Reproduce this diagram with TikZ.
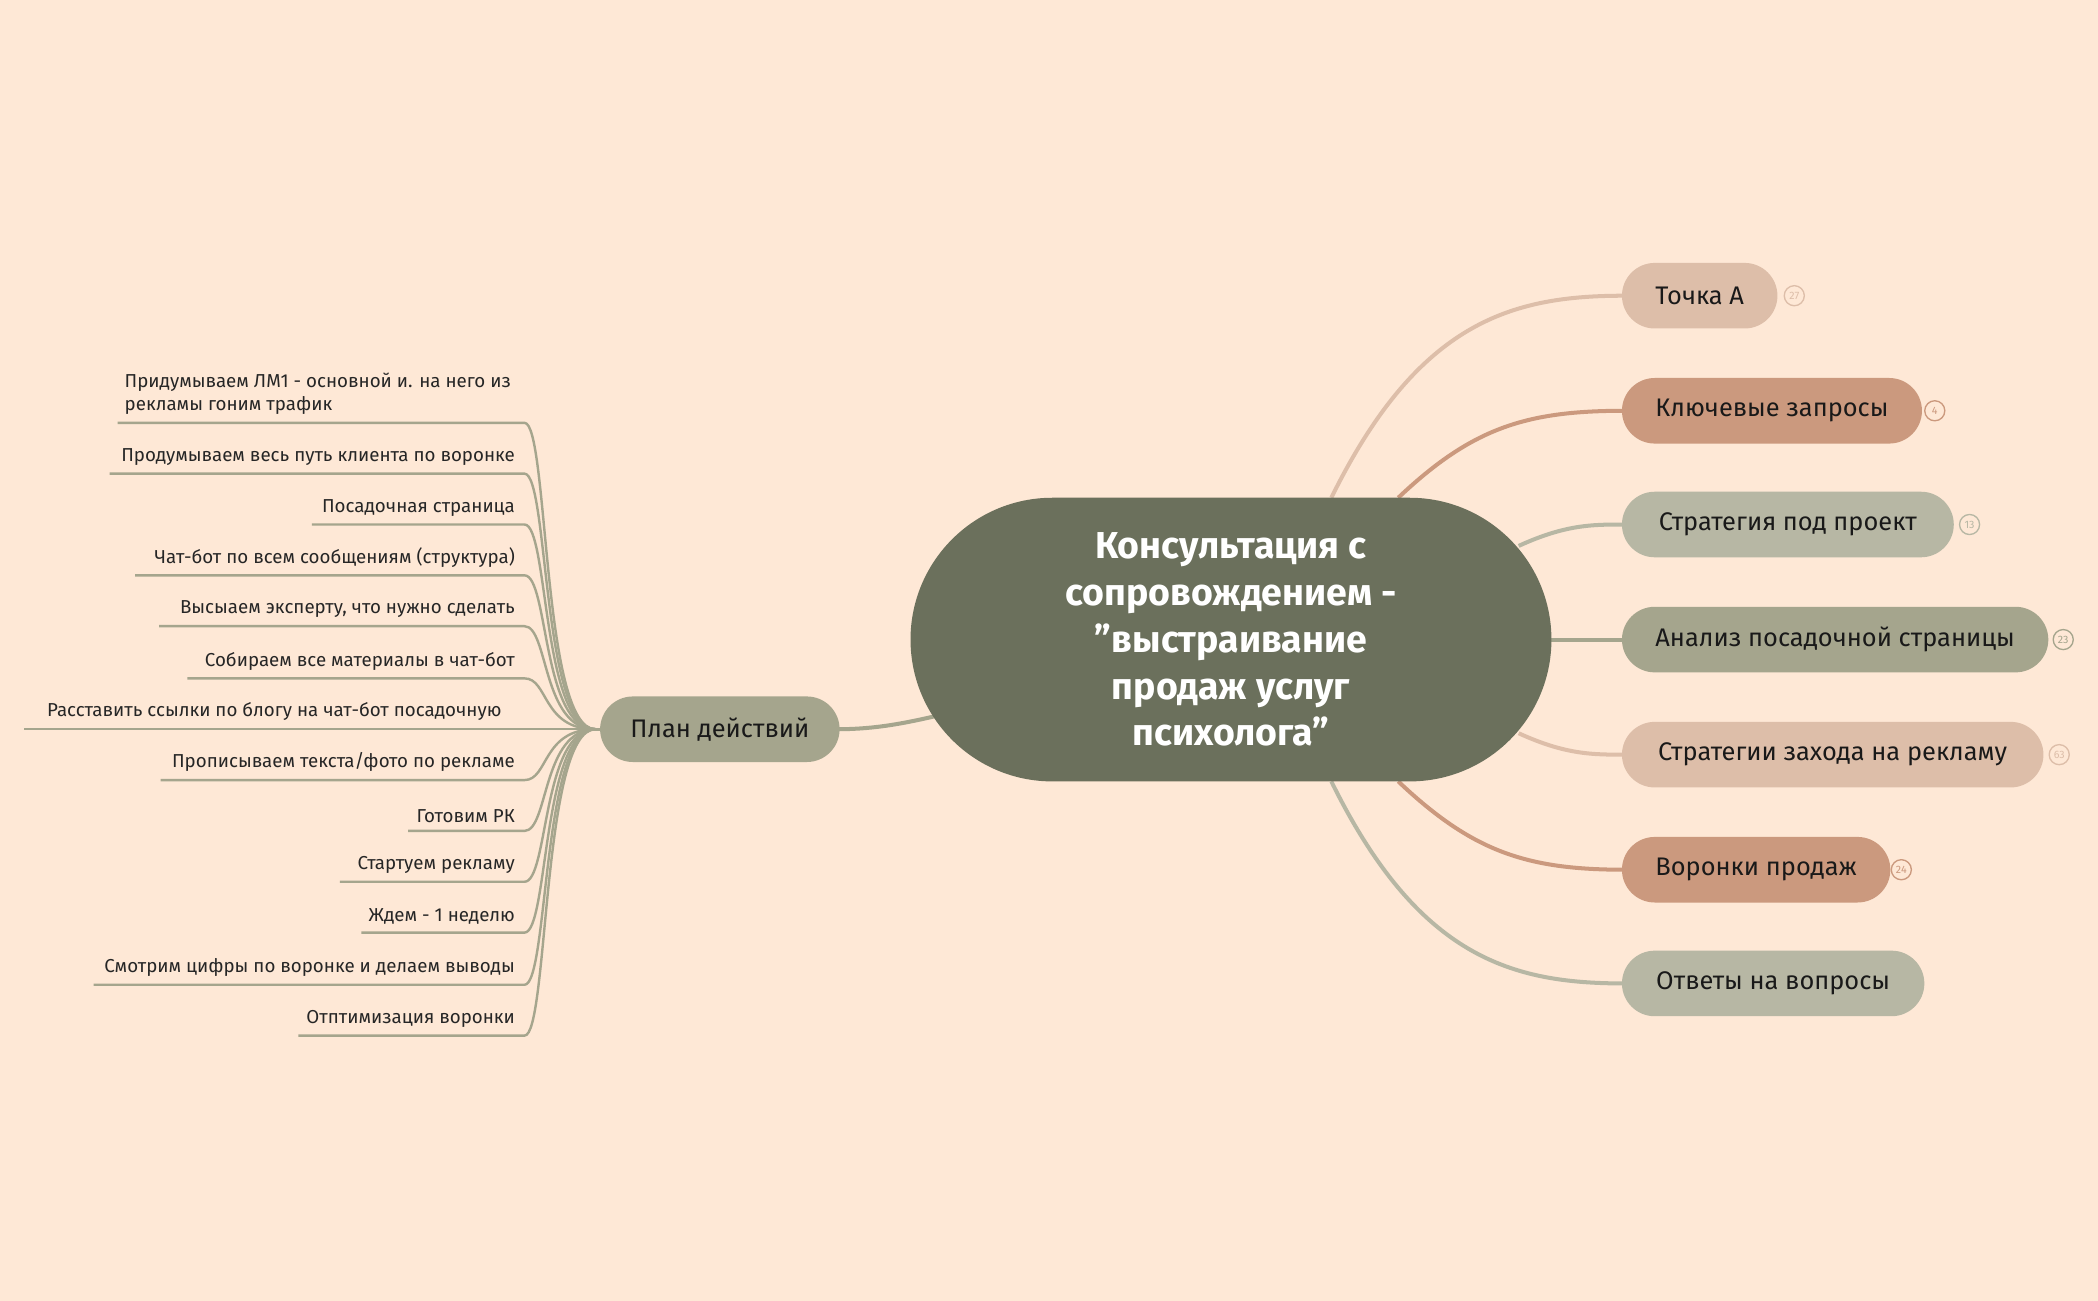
\documentclass[tikz,border=0pt]{standalone}
\usepackage{fontspec}
\setmainfont{Fira Sans}
\begin{document}
\begin{tikzpicture}[x=1pt,y=-1pt,
 leaf/.style={anchor=south east,inner sep=0pt,font=\fontsize{14}{17}\selectfont,text=black!85},
 br/.style={rounded corners=24.5pt,minimum height=49pt,inner xsep=25pt,anchor=west,font=\fontsize{19}{22}\selectfont,text=black!90},
 badge/.style={circle,draw,line width=1pt,minimum size=15pt,inner sep=0pt,font=\fontsize{8}{8}\selectfont}]
\definecolor{bg}{HTML}{FEE8D6}
\definecolor{cA}{HTML}{DDBEA9}
\definecolor{cB}{HTML}{CB997E}
\definecolor{cC}{HTML}{B7B7A4}
\definecolor{cD}{HTML}{A5A58D}
\definecolor{cE}{HTML}{6B705C}
\fill[bg] (0,0) rectangle (1568,972);
\useasboundingbox (0,0) rectangle (1568,972);
% connectors right
\draw[cA,line width=3pt] (995,372) .. controls (1060,240) and (1130,221) .. (1214,221);
\draw[cB,line width=3pt] (1045,372) .. controls (1100,320) and (1140,307) .. (1214,307);
\draw[cC,line width=3pt] (1135,408) .. controls (1170,392) and (1190,392) .. (1214,392);
\draw[cD,line width=3pt] (1155,478) -- (1214,478);
\draw[cA,line width=3pt] (1135,548) .. controls (1170,564) and (1190,564) .. (1214,564);
\draw[cB,line width=3pt] (1045,584) .. controls (1100,636) and (1140,650) .. (1214,650);
\draw[cC,line width=3pt] (995,584) .. controls (1060,716) and (1130,735) .. (1214,735);
\draw[cD,line width=3pt] (700,535) .. controls (670,542) and (650,545) .. (625,545);
% center
\node[fill=cE,rounded corners=106pt,minimum width=479pt,minimum height=212pt,text=white,align=center,font=\bfseries\fontsize{28}{35}\selectfont] (c) at (920,478) {Консультация с\\сопровождением -\\"выстраивание\\продаж услуг\\психолога"};
% branches
\node[br,fill=cA,minimum width=116pt] (b1) at (1212,221) {Точка А};
\node[br,fill=cB,minimum width=222pt] (b2) at (1212,307) {Ключевые запросы};
\node[br,fill=cC,minimum width=248pt] (b3) at (1212,392) {Стратегия под проект};
\node[br,fill=cD,minimum width=318pt] (b4) at (1212,478) {Анализ посадочной страницы};
\node[br,fill=cA,minimum width=315pt] (b5) at (1212,564) {Стратегии захода на рекламу};
\node[br,fill=cB,minimum width=197pt] (b6) at (1212,650) {Воронки продаж};
\node[br,fill=cC,minimum width=226pt] (b7) at (1212,735) {Ответы на вопросы};
\node[badge,draw=cA,text=cA] at (1341,221) {27};
\node[badge,draw=cB,text=cB] at (1446,307) {4};
\node[badge,draw=cC,text=cC] at (1472,392) {13};
\node[badge,draw=cD,text=cD] at (1542,478) {23};
\node[badge,draw=cA,text=cA] at (1539,564) {63};
\node[badge,draw=cB,text=cB] at (1421,650) {24};
% plan
\node[fill=cD,rounded corners=24.5pt,minimum width=179pt,minimum height=49pt,font=\fontsize{19}{22}\selectfont,text=black!90] (p) at (538,545) {План действий};
\coordinate (hub) at (445,545);
\foreach \y/\x in {316/88,354/82,392/233,430/101,468/119,507/140,583/120,621/305,659/254,697/270,736/70,774/223}{
 \draw[cD,line width=1.8pt] (\x,\y) -- (392,\y) .. controls (410,\y) and (405,545) .. (hub) -- (p.west);
}
\draw[cD,line width=1.8pt] (18,545) -- (p.west);
\node[leaf,anchor=south west,align=left] (l1) at (93,310) {Придумываем ЛМ1 - основной и. на него из\\рекламы гоним трафик};
\node[leaf] (l2) at (385,348) {Продумываем весь путь клиента по воронке};
\node[leaf] (l3) at (385,386) {Посадочная страница};
\node[leaf] (l4) at (385,424) {Чат-бот по всем сообщениям (структура)};
\node[leaf] (l5) at (385,462) {Высыаем эксперту, что нужно сделать};
\node[leaf] (l6) at (385,501) {Собираем все материалы в чат-бот};
\node[leaf] (l7) at (375,539) {Расставить ссылки по блогу на чат-бот посадочную};
\node[leaf] (l8) at (385,577) {Прописываем текста/фото по рекламе};
\node[leaf] (l9) at (385,615) {Готовим РК};
\node[leaf] (l10) at (385,653) {Стартуем рекламу};
\node[leaf] (l11) at (385,691) {Ждем - 1 неделю};
\node[leaf] (l12) at (385,730) {Смотрим цифры по воронке и делаем выводы};
\node[leaf] (l13) at (385,768) {Отптимизация воронки};
\end{tikzpicture}
\end{document}
